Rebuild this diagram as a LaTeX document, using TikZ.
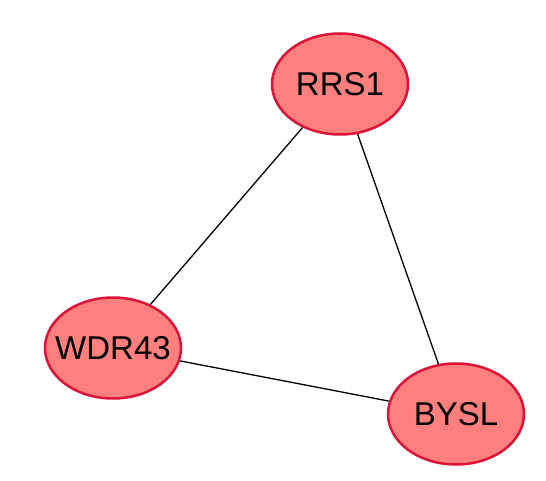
\documentclass[tikz,border=0pt]{standalone}
\usepackage{fontspec}
\setmainfont{Liberation Sans}
\usetikzlibrary{shapes.geometric}
\definecolor{genefill}{HTML}{FF7E7E}
\definecolor{geneline}{HTML}{DC1439}
\tikzset{
  gene/.style={ellipse, draw=geneline, fill=genefill, line width=2.5pt,
    minimum width=136pt, minimum height=101pt, inner xsep=-25pt, inner ysep=0pt,
    font=\fontsize{33}{36}\selectfont},
  link/.style={draw=black, line width=1.3pt}
}
\begin{document}
\begin{tikzpicture}[x=1pt, y=-1pt]
    \useasboundingbox (0,0) rectangle (546,481);
    % Nodes
    \node[gene] (rrs1) at (340, 84) {RRS1};
    \node[gene] (wdr43) at (113, 348) {WDR43};
    \node[gene] (bysl) at (456, 414) {BYSL};

    % Edges
    \draw[link] (rrs1) -- (wdr43);
    \draw[link] (rrs1) -- (bysl);
    \draw[link] (wdr43) -- (bysl);
\end{tikzpicture}
\end{document}
